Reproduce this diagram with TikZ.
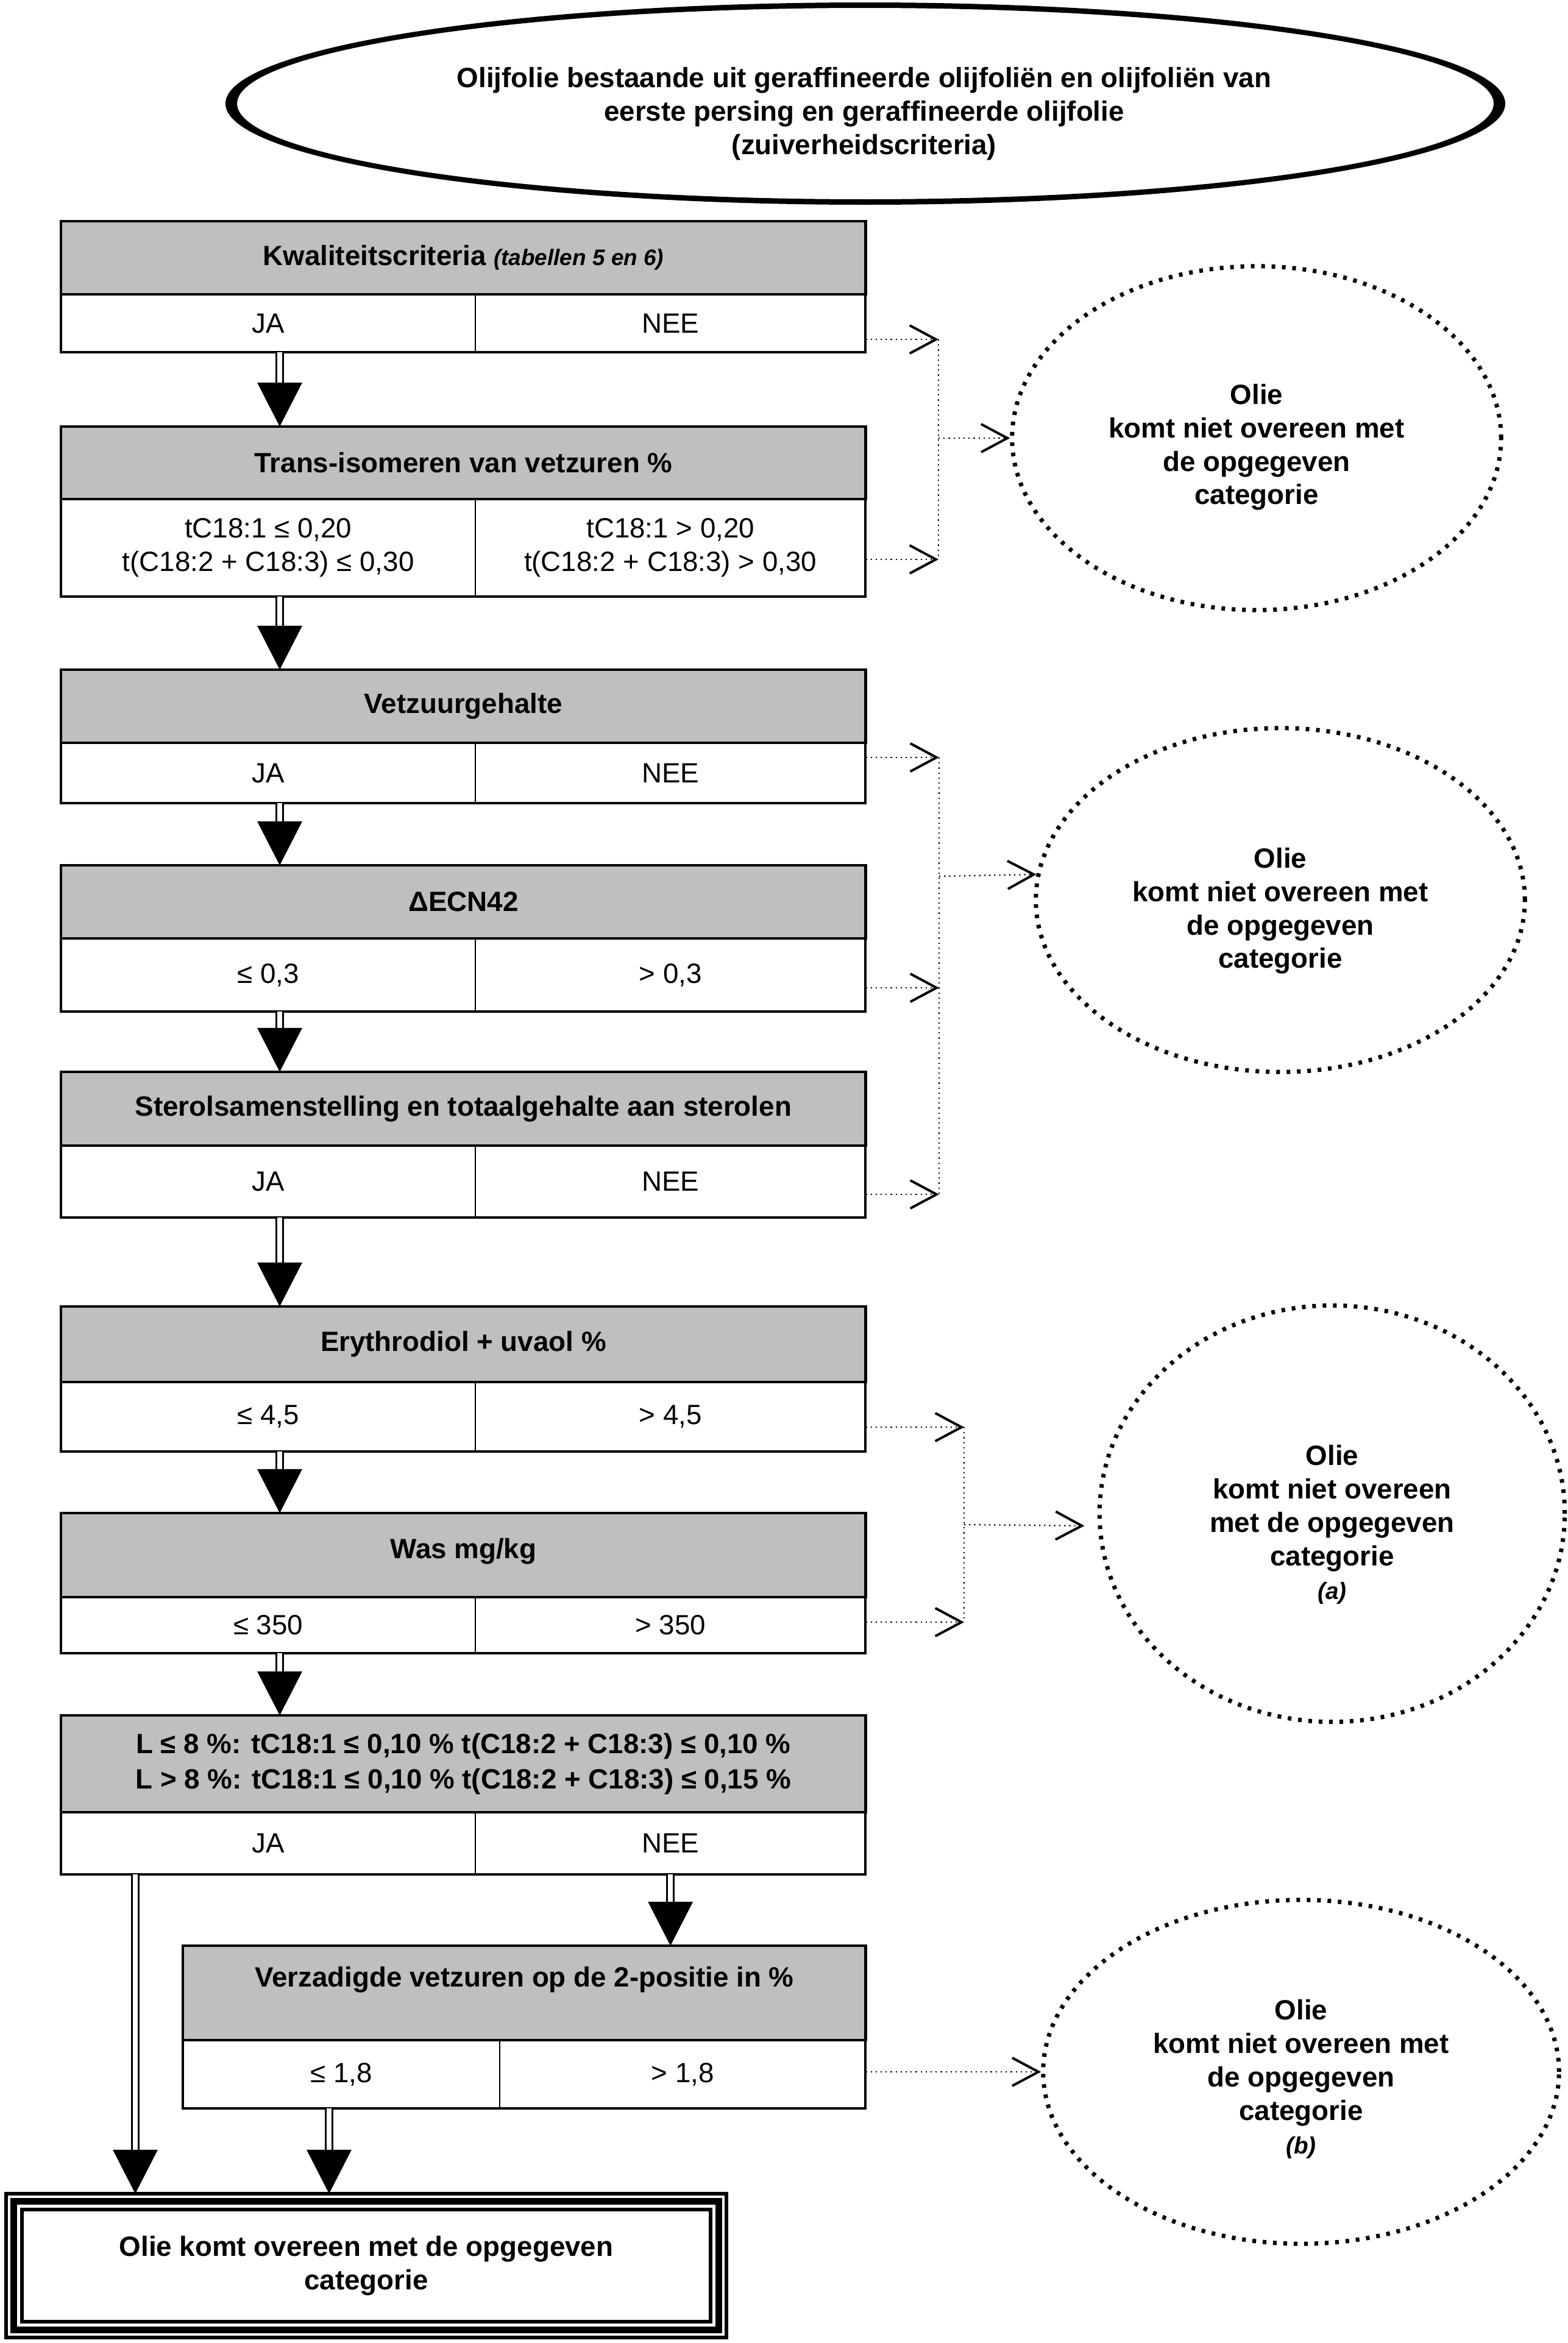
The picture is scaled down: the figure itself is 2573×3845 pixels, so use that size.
\documentclass[tikz,border=0pt]{standalone}
\usepackage{fontspec}
\setmainfont{Liberation Sans}
\usetikzlibrary{arrows.meta,shapes.geometric}

\definecolor{hdrgray}{RGB}{191,191,191}
\newcommand{\basefont}{\fontsize{13}{15.6}\selectfont}
\newcommand{\notefont}{\fontsize{10.5}{12}\selectfont\itshape}

\tikzset{
  hdr/.style={draw, line width=0.04cm, fill=hdrgray, anchor=north west, inner sep=0pt, outer sep=0pt, align=center, font=\basefont\bfseries},
  cell/.style={draw, line width=0.02cm, anchor=north west, inner sep=0pt, outer sep=0pt, align=center},
  frame/.style={line width=0.04cm},
  flow/.style={double, line width=0.03cm, double distance=0.08cm, -{Triangle[length=0.72cm,width=0.73cm]}},
  nogo/.style={line width=0.022cm, dash pattern=on 0.022cm off 0.06cm, -{Straight Barb[length=0.43cm,width=0.46cm,line width=0.04cm]}},
  dotline/.style={line width=0.022cm, dash pattern=on 0.022cm off 0.06cm},
  outcome/.style={ellipse, draw, line width=0.07cm, dash pattern=on 0.06cm off 0.11cm, inner sep=0pt, align=center, font=\basefont\bfseries},
}

\begin{document}
\begin{tikzpicture}[x=0.01cm,y=-0.01cm,font=\basefont]
\useasboundingbox (0,0) rectangle (2573,3845);

% start
\node[align=center, font=\basefont\bfseries] (start) at (1418,187) {Olijfolie bestaande uit geraffineerde olijfoliën en olijfoliën van\\eerste persing en geraffineerde olijfolie\\(zuiverheidscriteria)};
\fill[even odd rule] (1420,170) ellipse [x radius=1050, y radius=166] (1420,170) ellipse [x radius=1031, y radius=157];

% box 1
\node[hdr, minimum width=13.2cm, minimum height=1.20cm] (h1) at (100,363) {Kwaliteitscriteria {\notefont(tabellen 5 en 6)}};
\node[cell, minimum width=6.8cm, minimum height=0.95cm] (ja1) at (100,483) {JA};
\node[cell, minimum width=6.4cm, minimum height=0.95cm] (nee1) at (780,483) {NEE};
\draw[frame] (h1.north west) rectangle (nee1.south east);

% box 2
\node[hdr, minimum width=13.2cm, minimum height=1.19cm] (h2) at (100,700) {Trans-isomeren van vetzuren \%};
\node[cell, minimum width=6.8cm, minimum height=1.60cm] (ja2) at (100,819) {tC18:1 ≤ 0,20\\t(C18:2 + C18:3) ≤ 0,30};
\node[cell, minimum width=6.4cm, minimum height=1.60cm] (nee2) at (780,819) {tC18:1 > 0,20\\t(C18:2 + C18:3) > 0,30};
\draw[frame] (h2.north west) rectangle (nee2.south east);

% box 3
\node[hdr, minimum width=13.2cm, minimum height=1.20cm] (h3) at (100,1099) {Vetzuurgehalte};
\node[cell, minimum width=6.8cm, minimum height=0.99cm] (ja3) at (100,1219) {JA};
\node[cell, minimum width=6.4cm, minimum height=0.99cm] (nee3) at (780,1219) {NEE};
\draw[frame] (h3.north west) rectangle (nee3.south east);

% box 4
\node[hdr, minimum width=13.2cm, minimum height=1.20cm] (h4) at (100,1420) {ΔECN42};
\node[cell, minimum width=6.8cm, minimum height=1.20cm] (ja4) at (100,1540) {≤ 0,3};
\node[cell, minimum width=6.4cm, minimum height=1.20cm] (nee4) at (780,1540) {> 0,3};
\draw[frame] (h4.north west) rectangle (nee4.south east);

% box 5
\node[hdr, minimum width=13.2cm, minimum height=1.21cm] (h5) at (100,1759) {Sterolsamenstelling en totaalgehalte aan sterolen};
\node[cell, minimum width=6.8cm, minimum height=1.18cm] (ja5) at (100,1880) {JA};
\node[cell, minimum width=6.4cm, minimum height=1.18cm] (nee5) at (780,1880) {NEE};
\draw[frame] (h5.north west) rectangle (nee5.south east);

% box 6
\node[hdr, minimum width=13.2cm, minimum height=1.24cm] (h6) at (100,2144) {Erythrodiol + uvaol \%};
\node[cell, minimum width=6.8cm, minimum height=1.14cm] (ja6) at (100,2268) {≤ 4,5};
\node[cell, minimum width=6.4cm, minimum height=1.14cm] (nee6) at (780,2268) {> 4,5};
\draw[frame] (h6.north west) rectangle (nee6.south east);

% box 7
\node[hdr, minimum width=13.2cm, minimum height=1.38cm, text depth=0.23cm] (h7) at (100,2483) {Was mg/kg};
\node[cell, minimum width=6.8cm, minimum height=0.92cm] (ja7) at (100,2621) {≤ 350};
\node[cell, minimum width=6.4cm, minimum height=0.92cm] (nee7) at (780,2621) {> 350};
\draw[frame] (h7.north west) rectangle (nee7.south east);

% box 8
\node[hdr, minimum width=13.2cm, minimum height=1.59cm, font=\fontsize{13}{16.5}\selectfont\bfseries] (h8) at (100,2815) {L ≤ 8 \%: tC18:1 ≤ 0,10 \% t(C18:2 + C18:3) ≤ 0,10 \%\\L > 8 \%: tC18:1 ≤ 0,10 \% t(C18:2 + C18:3) ≤ 0,15 \%};
\node[cell, minimum width=6.8cm, minimum height=1.02cm] (ja8) at (100,2974) {JA};
\node[cell, minimum width=6.4cm, minimum height=1.02cm] (nee8) at (780,2974) {NEE};
\draw[frame] (h8.north west) rectangle (nee8.south east);

% box 9
\node[hdr, minimum width=11.2cm, minimum height=1.55cm, text depth=0.53cm] (h9) at (300,3193) {Verzadigde vetzuren op de 2-positie in \%};
\node[cell, minimum width=5.2cm, minimum height=1.12cm] (ja9) at (300,3348) {≤ 1,8};
\node[cell, minimum width=6.0cm, minimum height=1.12cm] (nee9) at (820,3348) {> 1,8};
\draw[frame] (h9.north west) rectangle (nee9.south east);

% eindvak
\node[draw, line width=0.06cm, minimum width=11.82cm, minimum height=2.36cm, inner sep=0pt, outer sep=0pt, align=center, font=\basefont\bfseries] (ok) at (601,3718) {Olie komt overeen met de opgegeven\\categorie};
\draw[line width=0.11cm] ([shift={(13,13)}]ok.north west) rectangle ([shift={(-13,-13)}]ok.south east);
\draw[line width=0.06cm] ([shift={(26,26)}]ok.north west) rectangle ([shift={(-26,-26)}]ok.south east);

% afgekeurd
\node[outcome, minimum width=8.02cm, minimum height=5.64cm] (o1) at (2062,719) {\rule{0pt}{0.63cm}Olie\\komt niet overeen met\\de opgegeven\\categorie};
\node[outcome, minimum width=8.02cm, minimum height=5.64cm] (o2) at (2101,1477) {\rule{0pt}{0.69cm}Olie\\komt niet overeen met\\de opgegeven\\categorie};
\node[outcome, minimum width=7.63cm, minimum height=6.83cm] (o3) at (2186,2484) {\rule{0pt}{0.69cm}Olie\\komt niet overeen\\met de opgegeven\\categorie\\{\fontsize{11}{13}\selectfont\itshape (a)}};
\node[outcome, minimum width=8.46cm, minimum height=5.64cm] (o4) at (2135,3400) {\rule{0pt}{0.57cm}Olie\\komt niet overeen met\\de opgegeven\\categorie\\{\fontsize{11}{13}\selectfont\itshape (b)}};

% doorgaande pijlen
\coordinate (col) at (459,0);
\draw[flow] (ja1.south -| col) -- (h2.north -| col);
\draw[flow] (ja2.south -| col) -- (h3.north -| col);
\draw[flow] (ja3.south -| col) -- (h4.north -| col);
\draw[flow] (ja4.south -| col) -- (h5.north -| col);
\draw[flow] (ja5.south -| col) -- (h6.north -| col);
\draw[flow] (ja6.south -| col) -- (h7.north -| col);
\draw[flow] (ja7.south -| col) -- (h8.north -| col);
\draw[flow] (nee8.south) -- (nee8.south |- h9.north);
\coordinate (colja) at (222,0);
\coordinate (colle) at (540,0);
\draw[flow] (ja8.south -| colja) -- (ok.north -| colja);
\draw[flow] (ja9.south -| colle) -- (ok.north -| colle);

% groep 1
\coordinate (g1a) at (1540,557);
\coordinate (g1b) at (1540,918);
\coordinate (g1m) at (1540,719);
\draw[nogo] (nee1.east |- g1a) -- (g1a);
\draw[nogo] (nee2.east |- g1b) -- (g1b);
\draw[dotline] (g1a) -- (g1b);
\draw[nogo] (g1m) -- (o1.west);

% groep 2
\coordinate (g2a) at (1541,1243);
\coordinate (g2b) at (1541,1621);
\coordinate (g2c) at (1541,1960);
\coordinate (g2m) at (1541,1438);
\draw[nogo] (nee3.east |- g2a) -- (g2a);
\draw[nogo] (nee4.east |- g2b) -- (g2b);
\draw[nogo] (nee5.east |- g2c) -- (g2c);
\draw[dotline] (g2a) -- (g2c);
\draw[nogo] (g2m) -- (o2.174);

% groep 3
\coordinate (g3a) at (1582,2342);
\coordinate (g3b) at (1582,2662);
\coordinate (g3m) at (1582,2502);
\draw[nogo] (nee6.east |- g3a) -- (g3a);
\draw[nogo] (nee7.east |- g3b) -- (g3b);
\draw[dotline] (g3a) -- (g3b);
\draw[nogo, shorten >=0.22cm] (g3m) -- (o3.183);

% groep 4
\draw[nogo] (nee9.east |- o4.west) -- (o4.west);
\end{tikzpicture}
\end{document}
